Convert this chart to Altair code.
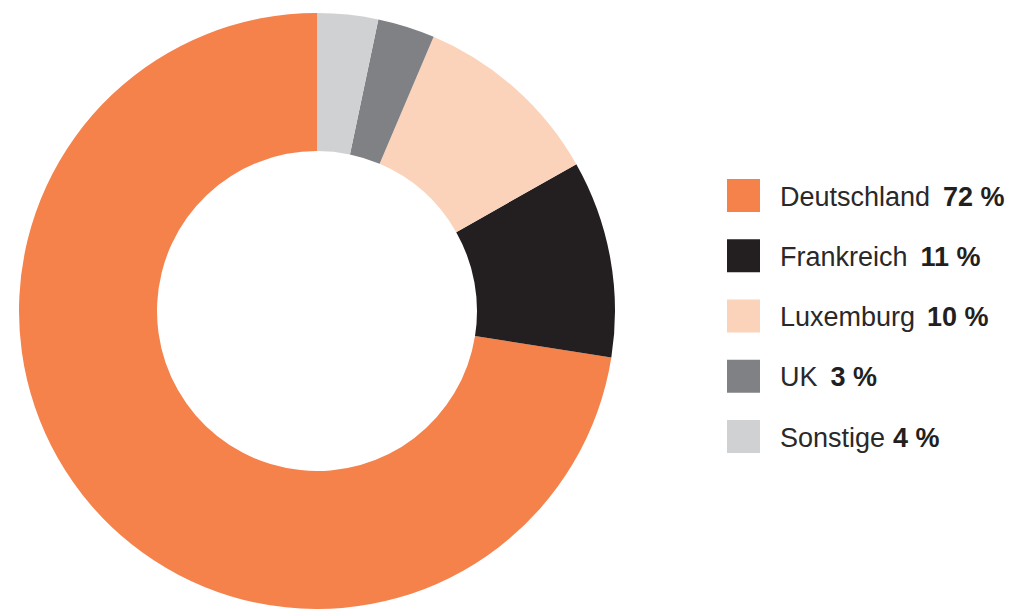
import altair as alt
import pandas as pd

# ---- data ----
names = ["Deutschland", "Frankreich", "Luxemburg", "UK", "Sonstige"]
# slice sizes as drawn in the picture (percent)
drawn_shares = [72.5, 10.7, 10.4, 3.1, 3.3]
# percentages as printed in the legend
pct_labels = ["72 %", "11 %", "10 %", "3 %", "4 %"]
colors = ["#F5814B", "#231F20", "#FBD3BB", "#808184", "#D0D1D3"]
pie_order = [5, 4, 3, 2, 1]          # clockwise from 12 o'clock: Sonstige first
label_gap = [13, 13, 12, 13, 8]

# Arial / Liberation Sans advance widths (per 1000 em) for label width estimation
W = {"D": 722, "e": 556, "u": 556, "t": 278, "s": 500, "c": 500, "h": 556, "l": 222,
     "a": 556, "n": 556, "d": 556, "F": 611, "r": 333, "k": 500, "i": 222, "L": 556,
     "x": 500, "m": 833, "b": 556, "g": 556, "U": 722, "K": 667, "S": 667, "o": 556, " ": 278}
FS = 27
TEXT_X = 780


def text_w(s):
    return sum(W.get(ch, 556) for ch in s) * FS / 1000


df = pd.DataFrame({
    "name": names,
    "share": drawn_shares,
    "ord": pie_order,
    "pct": pct_labels,
    "px": [TEXT_X + text_w(n) + g for n, g in zip(names, label_gap)],
})

color_scale = alt.Scale(domain=names, range=colors)

base = alt.Chart(df)

donut = base.mark_arc(innerRadius=160, outerRadius=298, stroke=None).encode(
    theta=alt.Theta("share:Q", stack=True),
    order=alt.Order("ord:Q"),
    color=alt.Color("name:N", scale=color_scale, legend=None),
    x=alt.value(317),
    y=alt.value(311),
)

yenc = alt.Y("name:N", sort=names, axis=None,
             scale=alt.Scale(type="point", range=[195.5, 436.5], padding=0))

squares = base.mark_square(size=33 * 33, opacity=1).encode(
    x=alt.value(743.5),
    y=yenc,
    color=alt.Color("name:N", scale=color_scale, legend=None),
)

name_text = base.mark_text(align="left", baseline="alphabetic", dy=10,
                           font="Liberation Sans", fontSize=FS, color="#2B2829").encode(
    x=alt.value(TEXT_X),
    y=yenc,
    text="name:N",
)

pct_text = base.mark_text(align="left", baseline="alphabetic", dy=10,
                          font="Liberation Sans", fontSize=FS, fontWeight="bold",
                          color="#231F20").encode(
    x=alt.X("px:Q", scale=None, axis=None),
    y=yenc,
    text="pct:N",
)

chart = alt.layer(donut, squares, name_text, pct_text).properties(
    width=1017, height=609, padding=0, autosize="none"
).configure_view(stroke=None)

chart.save("out.html", embed_options={"renderer": "svg", "actions": False})
